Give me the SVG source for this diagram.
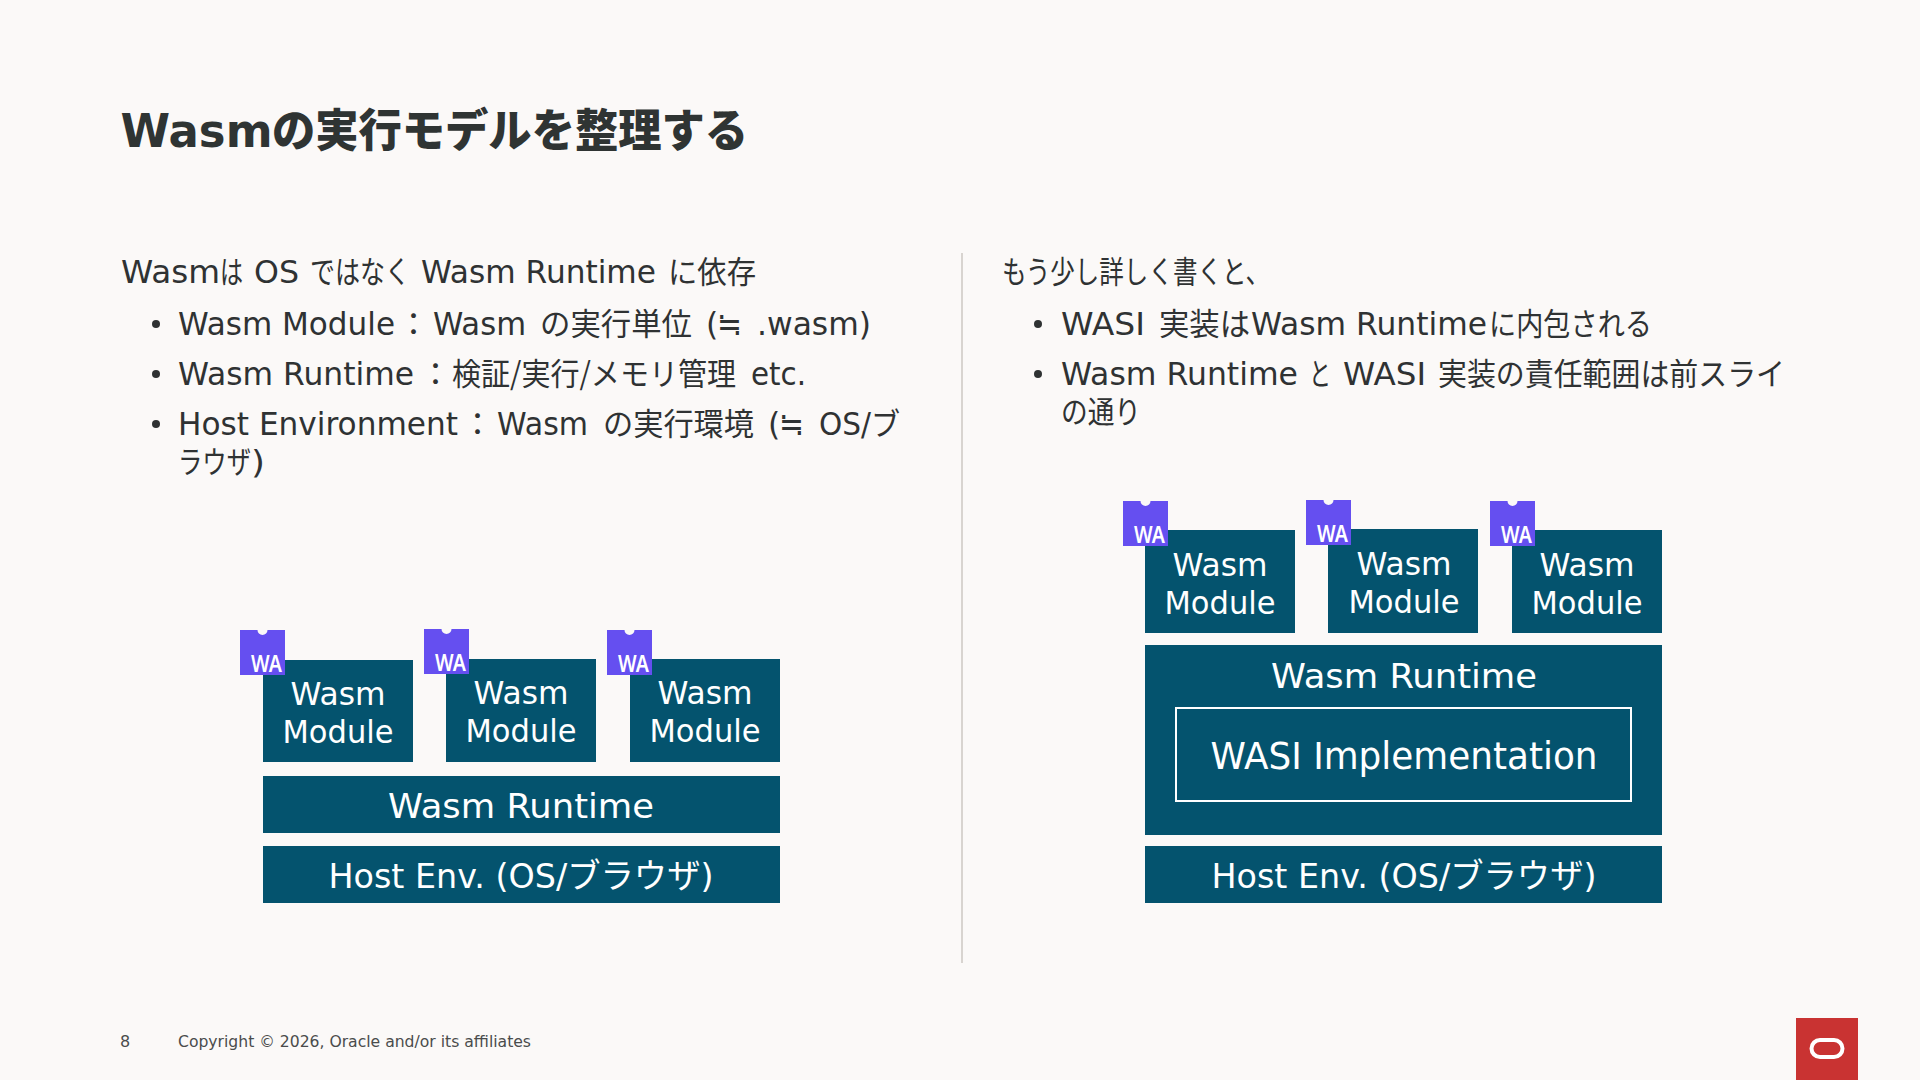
<svg xmlns="http://www.w3.org/2000/svg" width="1920" height="1080" viewBox="0 0 1920 1080">
<defs>
<style>
text{font-family:"DejaVu Sans","Noto Sans CJK JP",sans-serif;fill:#2f3233}
.title{font-size:46px;font-weight:700;fill:#2f3433}
.tj{font-family:"Noto Sans CJK JP",sans-serif;font-weight:900;font-size:45px}
.b{font-size:31.500px}
.j{font-family:"Noto Sans CJK JP",sans-serif;font-size:31px}
.box{fill:#04536e}
.w{font-size:34px;fill:#fff;text-anchor:middle}
.m{font-size:32px;fill:#fff;text-anchor:middle}
.f{font-size:16px;fill:#4a4c4c}
.badgeText{font-family:"Noto Sans",sans-serif;font-size:24px;font-weight:600;fill:#fff;text-anchor:middle}
.dot{fill:#2f3233}
</style>
<g id="wa">
<path d="M0 0H17.500A5 5 0 0 0 27.500 0H45V45H0Z" fill="#654ff0"/>
<text class="badgeText" x="26.500" y="42" textLength="31" lengthAdjust="spacingAndGlyphs">WA</text>
</g>
</defs>
<rect width="1920" height="1080" fill="#fbf9f8"/>
<text class="title" y="147"><tspan x="120.500" textLength="152" lengthAdjust="spacingAndGlyphs">Wasm</tspan><tspan class="tj" x="272" textLength="476" lengthAdjust="spacingAndGlyphs">の実行モデルを整理する</tspan></text>
<g id="left-text">
<text class="b" y="283"><tspan x="121" textLength="99" lengthAdjust="spacingAndGlyphs">Wasm</tspan><tspan class="j" x="220" textLength="23" lengthAdjust="spacingAndGlyphs">は</tspan> <tspan x="254" textLength="45" lengthAdjust="spacingAndGlyphs">OS</tspan> <tspan class="j" x="310" textLength="100" lengthAdjust="spacingAndGlyphs">ではなく</tspan> <tspan x="421" textLength="235" lengthAdjust="spacingAndGlyphs">Wasm Runtime</tspan> <tspan class="j" x="668" textLength="88" lengthAdjust="spacingAndGlyphs">に依存</tspan></text>
<circle class="dot" cx="156" cy="324" r="4"/>
<text class="b" y="334.500"><tspan x="178" textLength="217" lengthAdjust="spacingAndGlyphs">Wasm Module</tspan><tspan class="j" x="398">：</tspan><tspan x="433" textLength="93" lengthAdjust="spacingAndGlyphs">Wasm</tspan> <tspan class="j" x="540" textLength="152" lengthAdjust="spacingAndGlyphs">の実行単位</tspan> <tspan x="706">(</tspan><tspan class="j" x="717" textLength="25" lengthAdjust="spacingAndGlyphs">≒</tspan> <tspan x="757" textLength="114" lengthAdjust="spacingAndGlyphs">.wasm)</tspan></text>
<circle class="dot" cx="156" cy="374" r="4"/>
<text class="b" y="384.500"><tspan x="178" textLength="236" lengthAdjust="spacingAndGlyphs">Wasm Runtime</tspan><tspan class="j" x="420">：</tspan><tspan class="j" x="452" textLength="284" lengthAdjust="spacingAndGlyphs">検証/実行/メモリ管理</tspan> <tspan x="751" textLength="55" lengthAdjust="spacingAndGlyphs">etc.</tspan></text>
<circle class="dot" cx="156" cy="424" r="4"/>
<text class="b" y="434.500"><tspan x="178" textLength="280" lengthAdjust="spacingAndGlyphs">Host Environment</tspan><tspan class="j" x="462">：</tspan><tspan x="497" textLength="91" lengthAdjust="spacingAndGlyphs">Wasm</tspan> <tspan class="j" x="603" textLength="151" lengthAdjust="spacingAndGlyphs">の実行環境</tspan> <tspan x="768">(</tspan><tspan class="j" x="779" textLength="25" lengthAdjust="spacingAndGlyphs">≒</tspan> <tspan x="819" textLength="52" lengthAdjust="spacingAndGlyphs">OS/</tspan><tspan class="j" x="871" textLength="29" lengthAdjust="spacingAndGlyphs">ブ</tspan></text>
<text class="b" y="473"><tspan class="j" x="178" textLength="73" lengthAdjust="spacingAndGlyphs">ラウザ</tspan><tspan x="251" textLength="14" lengthAdjust="spacingAndGlyphs">)</tspan></text>
</g>
<line id="divider" x1="962" y1="253" x2="962" y2="963" stroke="#d8d4d0" stroke-width="2"/>
<g id="right-text">
<text class="b j" x="1002" y="283" textLength="268" lengthAdjust="spacingAndGlyphs">もう少し詳しく書くと、</text>
<circle class="dot" cx="1038" cy="324" r="4"/>
<text class="b" y="334.500"><tspan x="1061" textLength="84" lengthAdjust="spacingAndGlyphs">WASI</tspan> <tspan class="j" x="1159" textLength="91" lengthAdjust="spacingAndGlyphs">実装は</tspan><tspan x="1251" textLength="236" lengthAdjust="spacingAndGlyphs">Wasm Runtime</tspan><tspan class="j" x="1489" textLength="163" lengthAdjust="spacingAndGlyphs">に内包される</tspan></text>
<circle class="dot" cx="1038" cy="374" r="4"/>
<text class="b" y="384.500"><tspan x="1061" textLength="237" lengthAdjust="spacingAndGlyphs">Wasm Runtime</tspan> <tspan class="j" x="1309" textLength="22" lengthAdjust="spacingAndGlyphs">と</tspan> <tspan x="1343" textLength="83" lengthAdjust="spacingAndGlyphs">WASI</tspan> <tspan class="j" x="1438" textLength="347" lengthAdjust="spacingAndGlyphs">実装の責任範囲は前スライ</tspan></text>
<text class="b j" x="1061" y="422.500" textLength="80" lengthAdjust="spacingAndGlyphs">の通り</text>
</g>
<g id="connectors"/>
<g id="l-mod1"><rect class="box" x="263" y="660" width="150" height="102"/><text class="m" x="338" y="705" textLength="95" lengthAdjust="spacingAndGlyphs">Wasm</text><text class="m" x="338" y="743" textLength="111" lengthAdjust="spacingAndGlyphs">Module</text><use href="#wa" x="240" y="630"/></g>
<g id="l-mod2"><rect class="box" x="446" y="659" width="150" height="103"/><text class="m" x="521" y="704" textLength="95" lengthAdjust="spacingAndGlyphs">Wasm</text><text class="m" x="521" y="742" textLength="111" lengthAdjust="spacingAndGlyphs">Module</text><use href="#wa" x="424" y="629"/></g>
<g id="l-mod3"><rect class="box" x="630" y="659" width="150" height="103"/><text class="m" x="705" y="704" textLength="95" lengthAdjust="spacingAndGlyphs">Wasm</text><text class="m" x="705" y="742" textLength="111" lengthAdjust="spacingAndGlyphs">Module</text><use href="#wa" x="607" y="630"/></g>
<g id="l-runtime"><rect class="box" x="263" y="776" width="517" height="57"/><text class="w" x="521" y="818" textLength="266" lengthAdjust="spacingAndGlyphs">Wasm Runtime</text></g>
<g id="l-host"><rect class="box" x="263" y="846" width="517" height="57"/><text class="w" x="521" y="888" textLength="385" lengthAdjust="spacingAndGlyphs">Host Env. (OS/ブラウザ)</text></g>
<g id="r-mod1"><rect class="box" x="1145" y="530" width="150" height="103"/><text class="m" x="1220" y="576" textLength="95" lengthAdjust="spacingAndGlyphs">Wasm</text><text class="m" x="1220" y="614" textLength="111" lengthAdjust="spacingAndGlyphs">Module</text><use href="#wa" x="1123" y="501"/></g>
<g id="r-mod2"><rect class="box" x="1328" y="529" width="150" height="104"/><text class="m" x="1404" y="575" textLength="95" lengthAdjust="spacingAndGlyphs">Wasm</text><text class="m" x="1404" y="613" textLength="111" lengthAdjust="spacingAndGlyphs">Module</text><use href="#wa" x="1306" y="500"/></g>
<g id="r-mod3"><rect class="box" x="1512" y="530" width="150" height="103"/><text class="m" x="1587" y="576" textLength="95" lengthAdjust="spacingAndGlyphs">Wasm</text><text class="m" x="1587" y="614" textLength="111" lengthAdjust="spacingAndGlyphs">Module</text><use href="#wa" x="1490" y="501"/></g>
<g id="r-runtime"><rect class="box" x="1145" y="645" width="517" height="190"/><text class="w" x="1404" y="688" textLength="266" lengthAdjust="spacingAndGlyphs">Wasm Runtime</text></g>
<g id="r-wasi"><rect x="1176" y="708" width="455" height="93" fill="none" stroke="#fff" stroke-width="2"/><text class="w" x="1404" y="769" style="font-size:37px" textLength="387" lengthAdjust="spacingAndGlyphs">WASI Implementation</text></g>
<g id="r-host"><rect class="box" x="1145" y="846" width="517" height="57"/><text class="w" x="1404" y="888" textLength="385" lengthAdjust="spacingAndGlyphs">Host Env. (OS/ブラウザ)</text></g>
<g id="footer">
<text class="f" x="120" y="1047">8</text>
<text class="f" x="178" y="1047" textLength="353" lengthAdjust="spacingAndGlyphs">Copyright © 2026, Oracle and/or its affiliates</text>
<rect x="1796" y="1018" width="62" height="62" fill="#c93332"/>
<rect x="1811.500" y="1040" width="31" height="17" rx="8.500" fill="none" stroke="#fff" stroke-width="4"/>
</g>
</svg>
